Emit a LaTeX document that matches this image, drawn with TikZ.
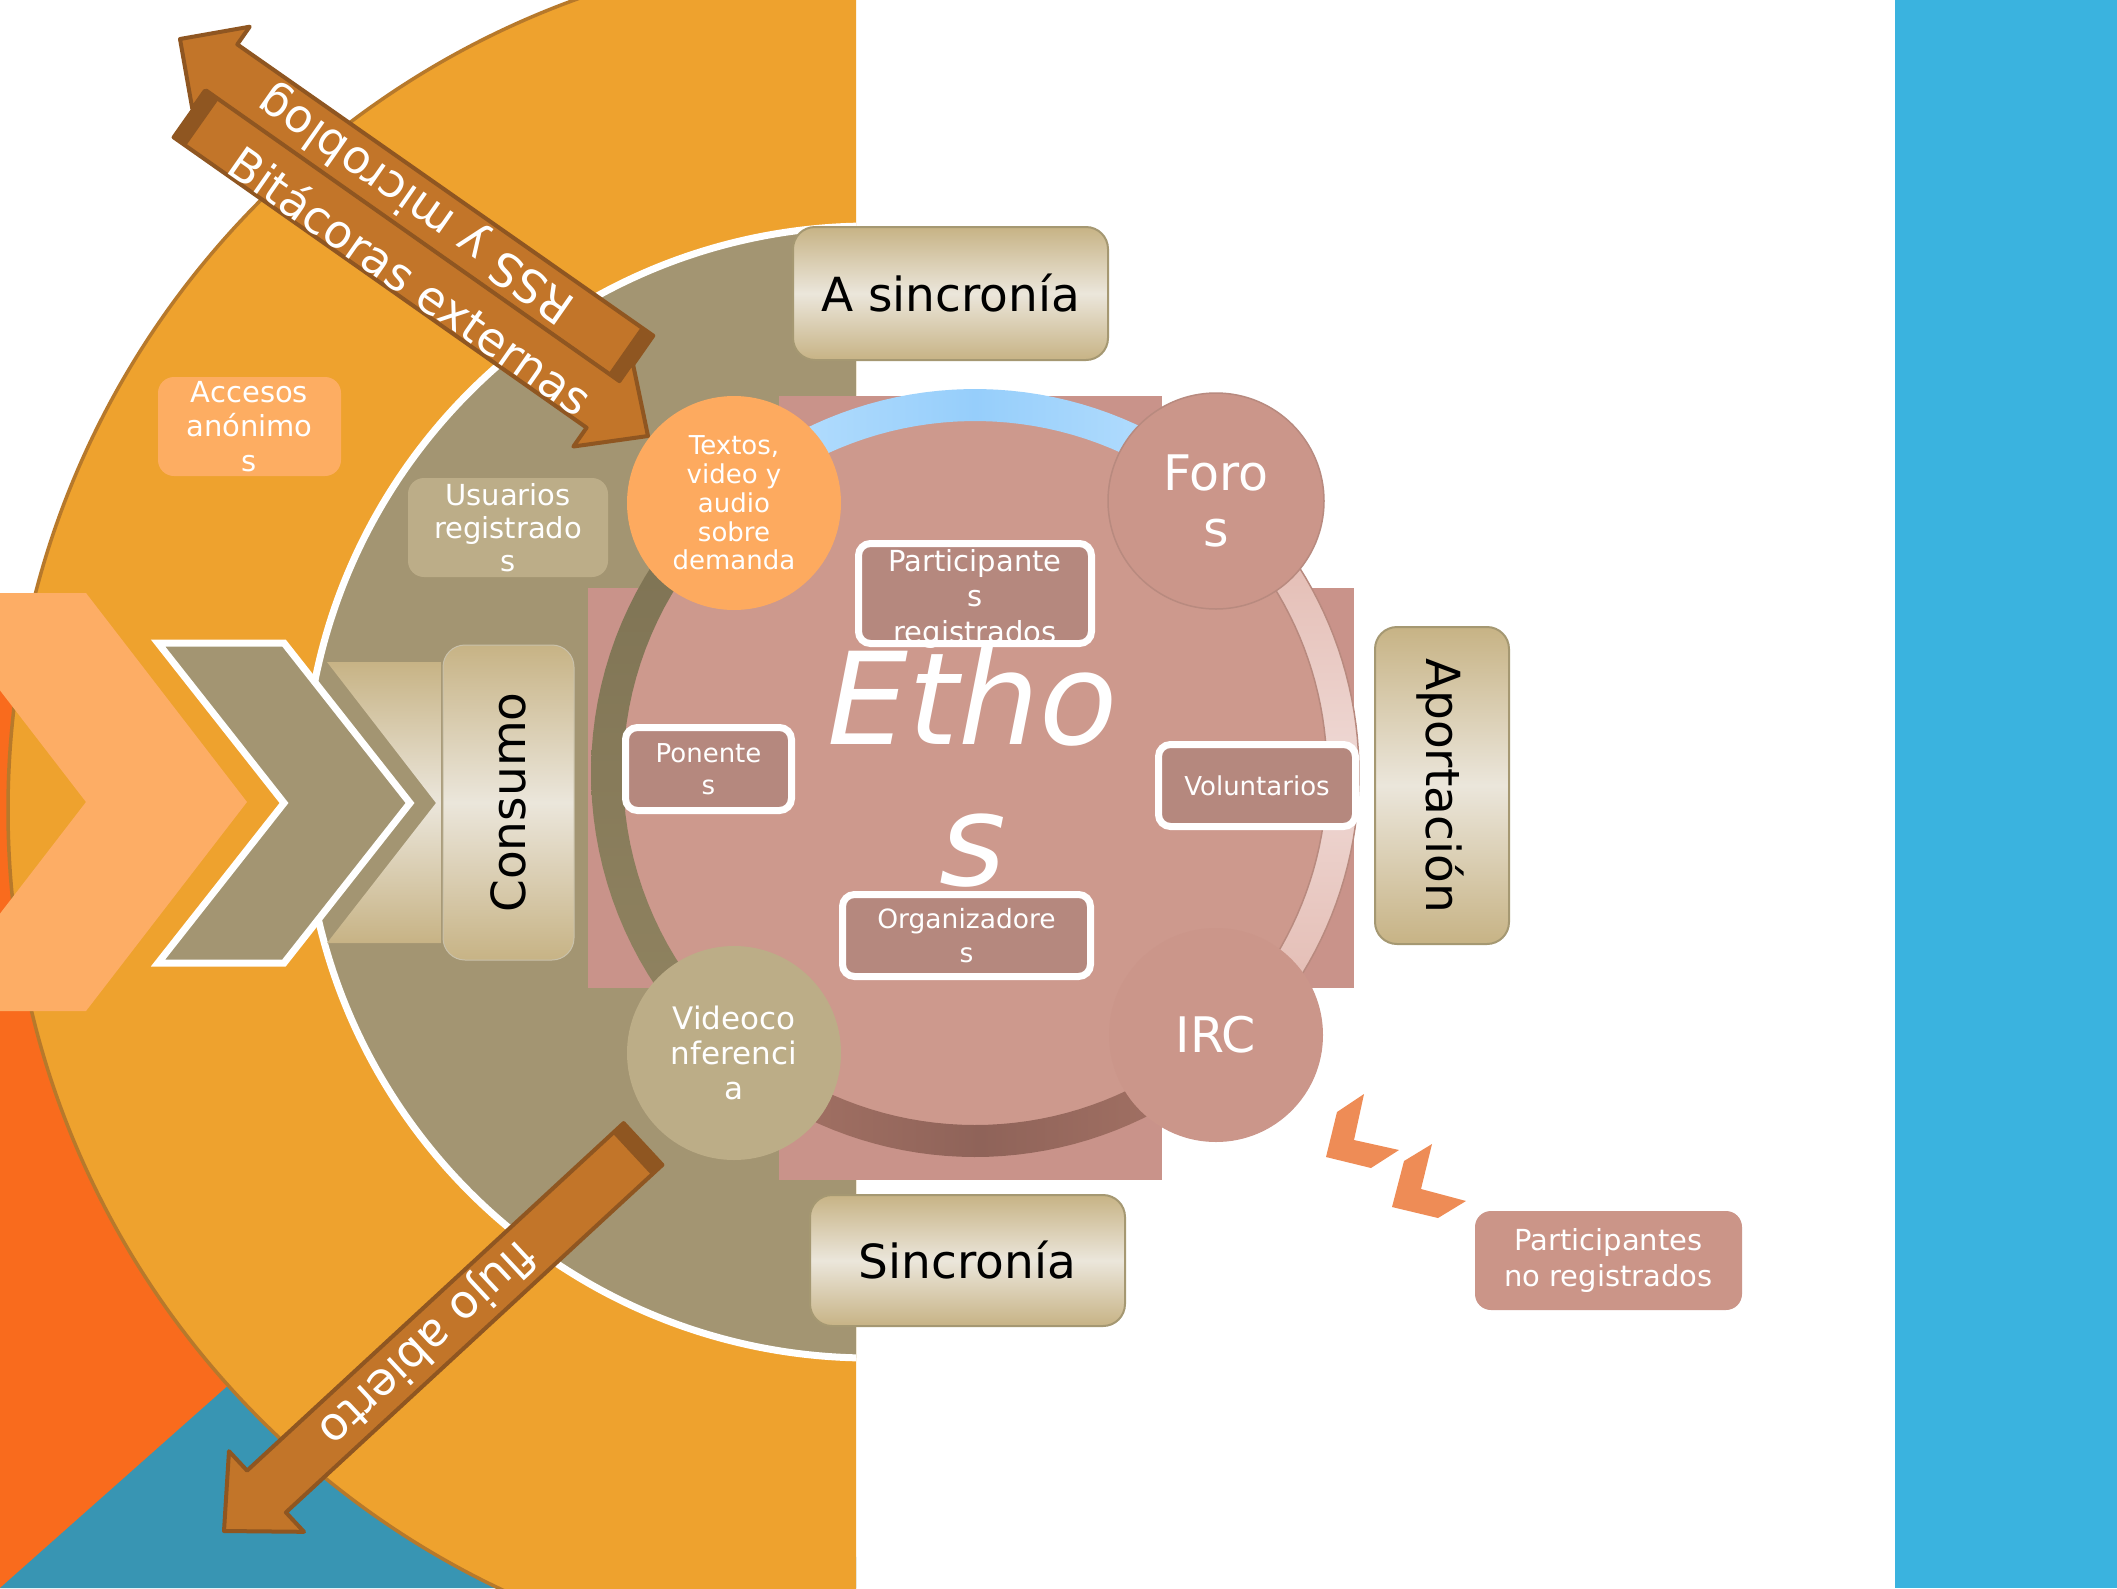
\documentclass[tikz,border=0pt]{standalone}
\usepackage{fontspec}
\setmainfont{DejaVu Sans}
\definecolor{bluestrip}{HTML}{3AB3DF}
\definecolor{redorange}{HTML}{F96B1D}
\definecolor{tealbg}{HTML}{3895B3}
\definecolor{orangebig}{HTML}{EEA22E}
\definecolor{orangeedge}{HTML}{B7792B}
\definecolor{lightorange}{HTML}{FDAD65}
\definecolor{graytan}{HTML}{A39572}
\definecolor{tandark}{HTML}{C7B385}
\definecolor{tanlight}{HTML}{EBE6DB}
\definecolor{tanedge}{HTML}{A59872}
\definecolor{pinkcross}{HTML}{C9938A}
\definecolor{pinkcircle}{HTML}{CD998D}
\definecolor{pinkbox}{HTML}{B5887E}
\definecolor{pinksat}{HTML}{CB968A}
\definecolor{pinkedge}{HTML}{B88A7F}
\definecolor{textosfill}{HTML}{FDAA5F}
\definecolor{videofill}{HTML}{BCAD87}
\definecolor{usuariosfill}{HTML}{BCAD88}
\definecolor{accesosfill}{HTML}{FDAD62}
\definecolor{arrowfill}{HTML}{C27529}
\definecolor{arrowedge}{HTML}{8F5621}
\definecolor{chevsmall}{HTML}{EE8C56}
\definecolor{noregfill}{HTML}{CB9588}
\definecolor{blueA}{HTML}{BDE2FE}
\definecolor{blueB}{HTML}{96CEFB}
\definecolor{rpinkA}{HTML}{E1B5AB}
\definecolor{rpinkB}{HTML}{EFD9D5}
\definecolor{bpinkA}{HTML}{A87567}
\definecolor{bpinkB}{HTML}{8F6359}
\definecolor{oliveA}{HTML}{7D7253}
\definecolor{oliveB}{HTML}{918461}
\begin{document}
\begin{tikzpicture}[x=1pt,y=-1pt,
  tanbox/.style={draw=tanedge, line width=2pt, rounded corners=22pt, top color=tandark, bottom color=tandark, middle color=tanlight, inner sep=0pt, text=black},
  whitebox/.style={draw=white, line width=7pt, fill=pinkbox, rounded corners=12pt, inner sep=0pt, text=white, align=center},
  softbox/.style={rounded corners=16pt, inner sep=0pt, text=white, align=center},
  sat/.style={circle, inner sep=0pt, minimum size=214pt, text=white, align=center},
  arrowshape/.style={fill=arrowfill, draw=arrowedge, line width=4pt, line join=round},
  arrowface/.style={fill=arrowedge, draw=arrowedge, line width=2pt, line join=round},
  arrowtext/.style={text=white, inner sep=0pt, font=\fontsize{46}{54}\selectfont},
  bigtext/.style={font=\fontsize{47}{56}\selectfont}
]
\useasboundingbox (0,0) rectangle (2117,1588);
\fill[white] (0,0) rectangle (2117,1588);
\fill[bluestrip] (1895,0) rectangle (2117,1588);

\begin{scope}
  \clip (0,0) rectangle (856,1588);
  \fill[redorange] (0,650) -- (300,650) -- (300,1588) -- (0,1588) -- cycle;
  \fill[tealbg] (0,1588) -- (400,1233) -- (900,1588) -- cycle;
  \filldraw[fill=orangebig, draw=orangeedge, line width=3.5pt] (870,810) circle[radius=862];
  \fill[lightorange] (-75,593) -- (86,593) -- (247,802) -- (86,1011) -- (-75,1011) -- (86,802) -- cycle;
  \filldraw[fill=graytan, draw=white, line width=7pt] (870,792) circle[radius=566];
\end{scope}

% chevrons on the left
\filldraw[fill=graytan, draw=white, line width=7pt, line join=miter] (158,643) -- (284,643) -- (410,803) -- (284,963) -- (158,963) -- (284,803) -- cycle;
\shade[top color=tandark, bottom color=tandark, middle color=tanlight] (327,662) -- (441,662) -- (441,943) -- (327,943) -- (436,803) -- cycle;
\node[tanbox, draw=tanedge!60, line width=1pt, minimum width=131pt, minimum height=315pt] (consumo) at (508.5,802.5) {};
\node[bigtext, rotate=90, anchor=base, inner sep=0pt] (consumotxt) at (525,802.5) {Consumo};

% outer small boxes
\node[softbox, fill=accesosfill, minimum width=183pt, minimum height=99pt, font=\fontsize{29}{34.4}\selectfont] (accesos) at (249.5,426.5) {Accesos\\anónimo\\s};
\node[softbox, fill=usuariosfill, minimum width=200pt, minimum height=99pt, font=\fontsize{29}{33.3}\selectfont] (usuarios) at (508,527.5) {Usuarios\\registrado\\s};

% tan label boxes
\node[tanbox, bigtext, minimum width=315pt, minimum height=133pt] (asinc) at (950.5,293.5) {A sincronía};
\node[tanbox, bigtext, minimum width=315pt, minimum height=131pt] (sinc) at (967.5,1260.5) {Sincronía};
\node[tanbox, minimum width=134pt, minimum height=317pt] (aport) at (1442,785.5) {};
\node[bigtext, rotate=-90, anchor=base, inner sep=0pt] (aporttxt) at (1426,785.5) {Aportación};

% pink cross
\fill[pinkcross] (779,396) rectangle (1162,1180);
\fill[pinkcross] (588,588) rectangle (1354,988);
\fill[pinkcircle] (975,773) circle[radius=362];

% ring segments
\shade[left color=blueA, right color=blueA, middle color=blueB]
  plot[domain=-132:-48, samples=40] ({975+384*cos(\x)},{773+384*sin(\x)}) --
  plot[domain=-48:-132, samples=40] ({975+352*cos(\x)},{773+352*sin(\x)}) -- cycle;
\path[draw=pinkedge, line width=1.5pt, top color=rpinkA, bottom color=rpinkA, middle color=rpinkB]
  plot[domain=-48:47, samples=50] ({975+384*cos(\x)},{773+384*sin(\x)}) --
  plot[domain=47:-48, samples=50] ({975+352*cos(\x)},{773+352*sin(\x)}) -- cycle;
\shade[left color=bpinkA, right color=bpinkA, middle color=bpinkB]
  plot[domain=47:131, samples=40] ({975+384*cos(\x)},{773+384*sin(\x)}) --
  plot[domain=131:47, samples=40] ({975+352*cos(\x)},{773+352*sin(\x)}) -- cycle;
\shade[top color=oliveA, bottom color=oliveB]
  plot[domain=131:228, samples=40] ({975+384*cos(\x)},{773+384*sin(\x)}) --
  plot[domain=228:131, samples=40] ({975+352*cos(\x)},{773+352*sin(\x)}) -- cycle;

% satellites
\node[sat, fill=textosfill, font=\fontsize{26}{28.7}\selectfont] (textos) at (734,503) {Textos,\\video y\\audio\\sobre\\demanda};
\node[sat, fill=pinksat, draw=pinkedge, line width=1.5pt, minimum size=216pt, font=\fontsize{49}{56.5}\selectfont] (foros) at (1216,501) {Foro\\s};
\node[sat, fill=pinksat, font=\fontsize{49}{56}\selectfont] (irc) at (1216,1035) {IRC};
\node[sat, fill=videofill, font=\fontsize{31}{34.7}\selectfont] (video) at (734,1053) {Videoco\\nferenci\\a};

% Ethos title
\node[text=white, inner sep=0pt, align=center, font=\fontsize{128}{141}\selectfont\itshape] (ethos) at (973,767) {Etho\\s};

% inner boxes
\node[whitebox, minimum width=166pt, minimum height=83pt, font=\fontsize{26}{32}\selectfont] (ponentes) at (708.5,769) {Ponente\\s};
\node[whitebox, minimum width=248pt, minimum height=82pt, font=\fontsize{26.5}{33.8}\selectfont] (organiz) at (966.5,935.5) {Organizadore\\s};
\node[whitebox, minimum width=197pt, minimum height=82pt, font=\fontsize{26}{31}\selectfont] (volunt) at (1257,785.5) {Voluntarios};
\node[fill=pinkbox, rounded corners=12pt, inner sep=0pt, minimum width=233pt, minimum height=100pt] (pregbox) at (975,593.5) {};
\node[text=white, inner sep=0pt, align=center, font=\fontsize{29}{35.5}\selectfont] (pregtxt) at (975,598.5) {Participante\\s\\registrados};
\node[draw=white, line width=7pt, rounded corners=12pt, inner sep=0pt, minimum width=233pt, minimum height=100pt] (pregframe) at (975,593.5) {};

% arrows
\filldraw[arrowshape] (653.3,335.7) -- (237.3,44.4) -- (249.7,26.7) -- (180,39) -- (192.3,108.7) -- (204.7,91) -- (620.7,382.3) -- cycle;
\filldraw[arrowface] (653.3,335.7) -- (620.7,382.3) -- (609.2,374.3) -- (641.8,327.7) -- cycle;
\filldraw[arrowshape] (206.4,90.7) -- (619.4,381.1) -- (632.6,362.3) -- (648,436) -- (573.4,446.5) -- (586.6,427.7) -- (173.6,137.3) -- cycle;
\filldraw[arrowface] (206.4,90.7) -- (173.6,137.3) -- (185.1,145.3) -- (217.9,98.7) -- cycle;
\filldraw[arrowshape] (662.4,1164.9) -- (285.9,1512.4) -- (304,1531.8) -- (224,1531) -- (229,1451.2) -- (247.1,1470.6) -- (623.6,1123.1) -- cycle;
\filldraw[arrowface] (662.4,1164.9) -- (623.6,1123.1) -- (613.4,1132.6) -- (652.2,1174.4) -- cycle;
\node[arrowtext, rotate=145] (rss) at (417,203) {RSS y microblog};
\node[arrowtext, rotate=-35] (bitac) at (411,280) {Bitácoras externas};
\node[arrowtext, rotate=223] (flujo) at (426,1342) {flujo abierto};

% small chevrons and the outside box
\fill[chevsmall] (1364,1094) -- (1337,1112) -- (1326,1157) -- (1371,1168) -- (1399,1150) -- (1354,1140) -- cycle;
\fill[chevsmall] (1432,1144) -- (1404,1161) -- (1392,1207) -- (1438,1218) -- (1466,1201) -- (1421,1189) -- cycle;
\node[softbox, fill=noregfill, minimum width=267pt, minimum height=99pt, font=\fontsize{29}{35.5}\selectfont] (noreg) at (1608.5,1260.5) {Participantes\\no registrados};
\end{tikzpicture}
\end{document}
